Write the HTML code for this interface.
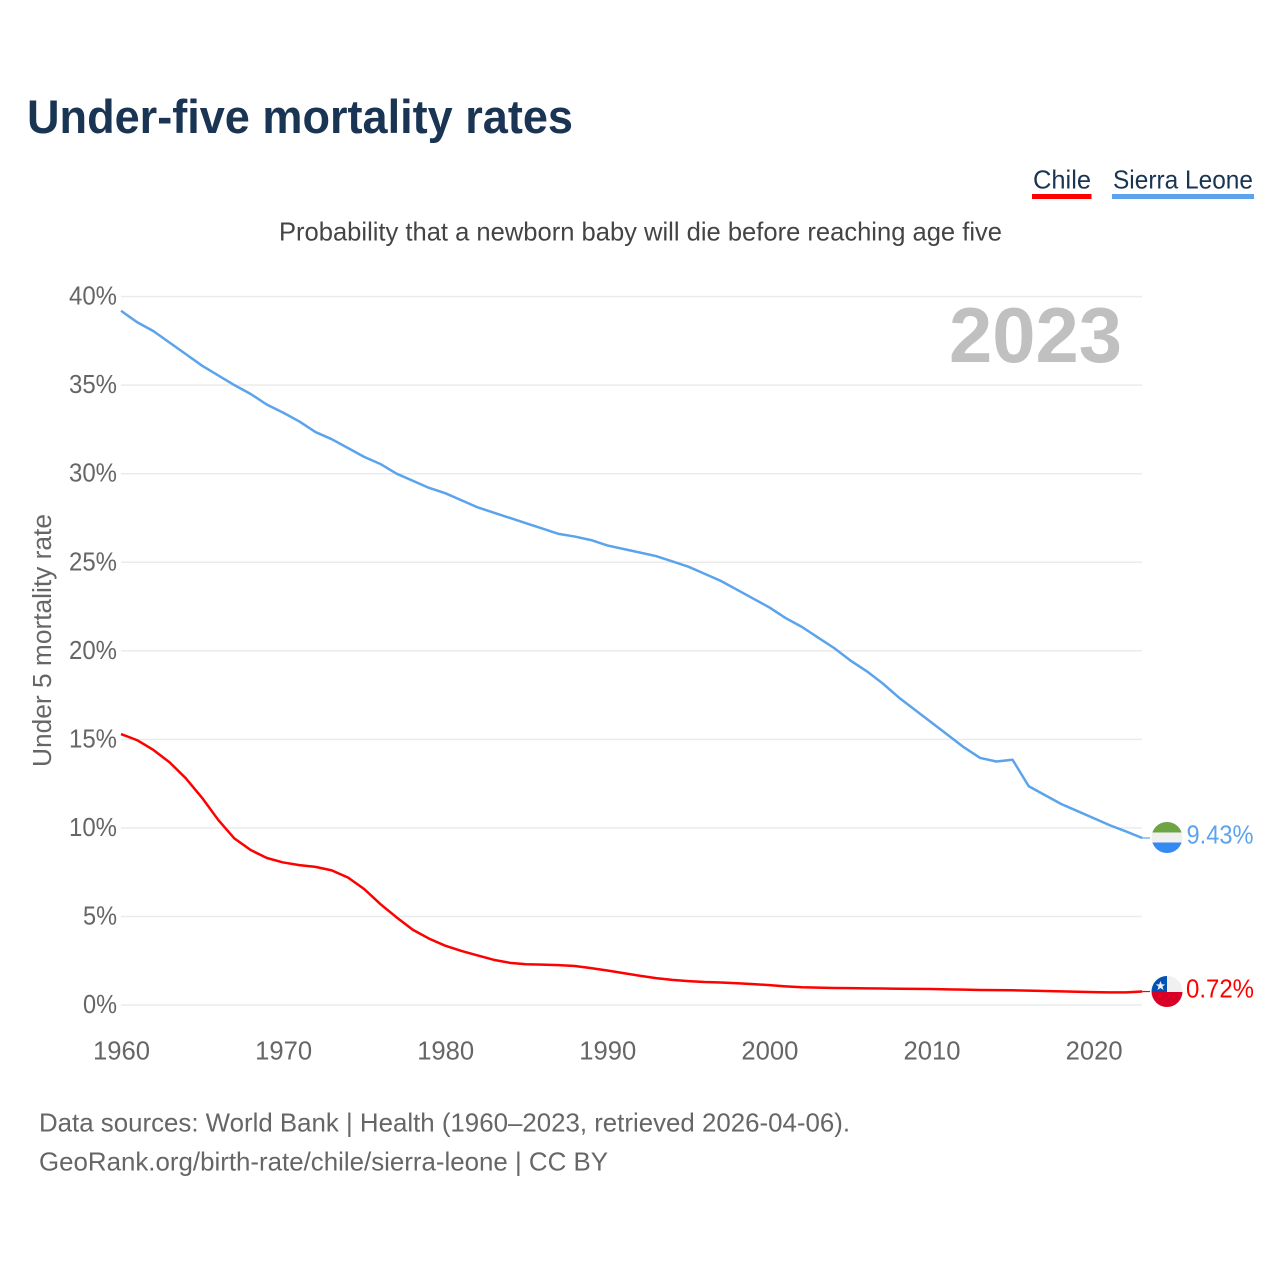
<!DOCTYPE html>
<html lang="en">
<head>
<meta charset="utf-8">
<title>Under-five mortality rates</title>
<style>
html,body{margin:0;padding:0;background:#fff;}
svg{display:block;}
text{font-family:"Liberation Sans",sans-serif;}
</style>
</head>
<body>
<svg id="chart" xmlns="http://www.w3.org/2000/svg" width="1280" height="1280" viewBox="0 0 1280 1280">
  <rect x="0" y="0" width="1280" height="1280" fill="#ffffff"/>
  <text x="27" y="133" font-size="47" font-weight="700" fill="#1a3453" textLength="546" lengthAdjust="spacingAndGlyphs">Under-five mortality rates</text>

  <g>
    <text x="1033" y="188.5" font-size="26" fill="#1a3453" textLength="58" lengthAdjust="spacingAndGlyphs">Chile</text>
    <rect x="1032" y="194" width="59.5" height="5" fill="#ff0000"/>
  </g>
  <g>
    <text x="1113" y="188.5" font-size="26" fill="#1a3453" textLength="140" lengthAdjust="spacingAndGlyphs">Sierra Leone</text>
    <rect x="1112" y="194" width="142" height="5" fill="#5ba3ec"/>
  </g>

  <text x="279" y="240.5" font-size="26" fill="#444444" textLength="723" lengthAdjust="spacingAndGlyphs">Probability that a newborn baby will die before reaching age five</text>

  <g id="grid"></g>
  <g id="yticks"></g>
  <g id="xticks"></g>

  <text transform="translate(51,767) rotate(-90)" x="0" y="0" font-size="25.5" fill="#666666" textLength="253" lengthAdjust="spacingAndGlyphs">Under 5 mortality rate</text>

  <text x="949" y="362" font-size="78" font-weight="700" fill="#c0c0c0" textLength="173" lengthAdjust="spacingAndGlyphs">2023</text>

  <g id="series"></g>

  <defs>
    <clipPath id="clip-sl"><circle cx="1167" cy="837.5" r="15.5"/></clipPath>
    <clipPath id="clip-cl"><circle cx="1167" cy="991.5" r="15.5"/></clipPath>
  </defs>
  <g clip-path="url(#clip-sl)">
    <rect x="1151" y="822" width="32" height="10.5" fill="#6da544"/>
    <rect x="1151" y="832.5" width="32" height="10" fill="#f0f0f0"/>
    <rect x="1151" y="842.5" width="32" height="11" fill="#338af3"/>
  </g>
  <g clip-path="url(#clip-cl)">
    <rect x="1151" y="976" width="32" height="16" fill="#f0f0f0"/>
    <rect x="1151" y="976" width="16" height="16" fill="#0052b4"/>
    <rect x="1151" y="992" width="32" height="16" fill="#d80027"/>
    <polygon points="1160.5,981 1161.8,984.4 1165.2,984.4 1162.5,986.5 1163.5,990 1160.5,988 1157.5,990 1158.5,986.5 1155.8,984.4 1159.2,984.4" fill="#f0f0f0"/>
  </g>

  <text x="1186.5" y="843.5" font-size="26" fill="#5ba3ec" textLength="67" lengthAdjust="spacingAndGlyphs">9.43%</text>
  <text x="1186" y="997.5" font-size="26" fill="#ff0000" textLength="68" lengthAdjust="spacingAndGlyphs">0.72%</text>

  <text x="39" y="1131.5" font-size="26" fill="#666666" textLength="811" lengthAdjust="spacingAndGlyphs">Data sources: World Bank | Health (1960–2023, retrieved 2026-04-06).</text>
  <text x="39" y="1170.5" font-size="26" fill="#666666" textLength="569" lengthAdjust="spacingAndGlyphs">GeoRank.org/birth-rate/chile/sierra-leone | CC BY</text>
</svg>
<script>
const startYear = 1960;
const yTickValues = [0, 5, 10, 15, 20, 25, 30, 35, 40];
const xTickYears = [1960, 1970, 1980, 1990, 2000, 2010, 2020];
const chileValues = [15.3, 14.95, 14.4, 13.7, 12.8, 11.7, 10.45, 9.4, 8.75, 8.3, 8.05, 7.9, 7.8, 7.6, 7.2, 6.55, 5.7, 4.95, 4.25, 3.75, 3.35, 3.05, 2.8, 2.55, 2.38, 2.3, 2.28, 2.25, 2.2, 2.08, 1.95, 1.8, 1.65, 1.52, 1.42, 1.35, 1.3, 1.27, 1.23, 1.18, 1.12, 1.05, 1.0, 0.98, 0.96, 0.95, 0.94, 0.93, 0.92, 0.91, 0.9, 0.88, 0.87, 0.85, 0.84, 0.83, 0.81, 0.79, 0.77, 0.75, 0.73, 0.71, 0.71, 0.76];
const sierraLeoneValues = [39.2, 38.55, 38.05, 37.4, 36.75, 36.1, 35.55, 35.0, 34.5, 33.9, 33.45, 32.95, 32.35, 31.95, 31.45, 30.95, 30.55, 30.0, 29.6, 29.2, 28.9, 28.5, 28.1, 27.8, 27.5, 27.2, 26.9, 26.6, 26.45, 26.25, 25.95, 25.75, 25.55, 25.35, 25.05, 24.75, 24.35, 23.95, 23.45, 22.95, 22.45, 21.85, 21.35, 20.75, 20.15, 19.45, 18.85, 18.15, 17.35, 16.65, 15.95, 15.25, 14.55, 13.95, 13.75, 13.85, 12.35, 11.85, 11.35, 10.95, 10.55, 10.15, 9.8, 9.43];

const NS = 'http://www.w3.org/2000/svg';
function xScale(year) { return 121 + (year - 1960) * 16.21; }
function yScale(v) { return 1005 - v * 17.71; }

const grid = document.getElementById('grid');
const yticks = document.getElementById('yticks');
const xticks = document.getElementById('xticks');
const series = document.getElementById('series');

yTickValues.forEach(function (v) {
  const line = document.createElementNS(NS, 'line');
  
  
  line.setAttribute('x1', 121);
  line.setAttribute('x2', 1142);
  line.setAttribute('y1', yScale(v));
  line.setAttribute('y2', yScale(v));
  line.setAttribute('stroke', '#ebebeb');
  line.setAttribute('stroke-width', '1.5');
  grid.appendChild(line);

  const t = document.createElementNS(NS, 'text');
  
  
  t.setAttribute('x', 117);
  t.setAttribute('y', yScale(v) + 8);
  t.setAttribute('text-anchor', 'end');
  t.setAttribute('font-size', '26');
  t.setAttribute('fill', '#666666');
  t.setAttribute('textLength', v === 0 ? 34 : (v === 5 ? 34 : 48));
  t.setAttribute('lengthAdjust', 'spacingAndGlyphs');
  t.textContent = v + '%';
  yticks.appendChild(t);
});

xTickYears.forEach(function (yr) {
  const t = document.createElementNS(NS, 'text');
  
  
  t.setAttribute('x', xScale(yr) + 0.5);
  t.setAttribute('y', 1059.5);
  t.setAttribute('text-anchor', 'middle');
  t.setAttribute('font-size', '26');
  t.setAttribute('fill', '#666666');
  t.setAttribute('textLength', 57);
  t.setAttribute('lengthAdjust', 'spacingAndGlyphs');
  t.textContent = yr;
  xticks.appendChild(t);
});

function linePath(vals) {
  return vals.map(function (v, i) {
    return (i ? 'L' : 'M') + xScale(startYear + i).toFixed(2) + ' ' + yScale(v).toFixed(2);
  }).join(' ');
}
function stubPath(vals) {
  const last = vals[vals.length - 1];
  return 'M' + xScale(startYear + vals.length - 1).toFixed(2) + ' ' + yScale(last).toFixed(2) + ' H1150';
}

const chileLine = document.createElementNS(NS, 'path');


chileLine.setAttribute('d', linePath(chileValues));
chileLine.setAttribute('fill', 'none');
chileLine.setAttribute('stroke', '#ff0000');
chileLine.setAttribute('stroke-width', '2.5');
chileLine.setAttribute('stroke-linejoin', 'round');
series.appendChild(chileLine);

const chileStub = document.createElementNS(NS, 'path');


chileStub.setAttribute('d', stubPath(chileValues));
chileStub.setAttribute('fill', 'none');
chileStub.setAttribute('stroke', '#ff0000');
chileStub.setAttribute('stroke-width', '1.2');
series.appendChild(chileStub);

const slLine = document.createElementNS(NS, 'path');


slLine.setAttribute('d', linePath(sierraLeoneValues));
slLine.setAttribute('fill', 'none');
slLine.setAttribute('stroke', '#5ba3ec');
slLine.setAttribute('stroke-width', '2.5');
slLine.setAttribute('stroke-linejoin', 'round');
series.appendChild(slLine);

const slStub = document.createElementNS(NS, 'path');


slStub.setAttribute('d', stubPath(sierraLeoneValues));
slStub.setAttribute('fill', 'none');
slStub.setAttribute('stroke', '#5ba3ec');
slStub.setAttribute('stroke-width', '1.2');
series.appendChild(slStub);
</script>
</body>
</html>
